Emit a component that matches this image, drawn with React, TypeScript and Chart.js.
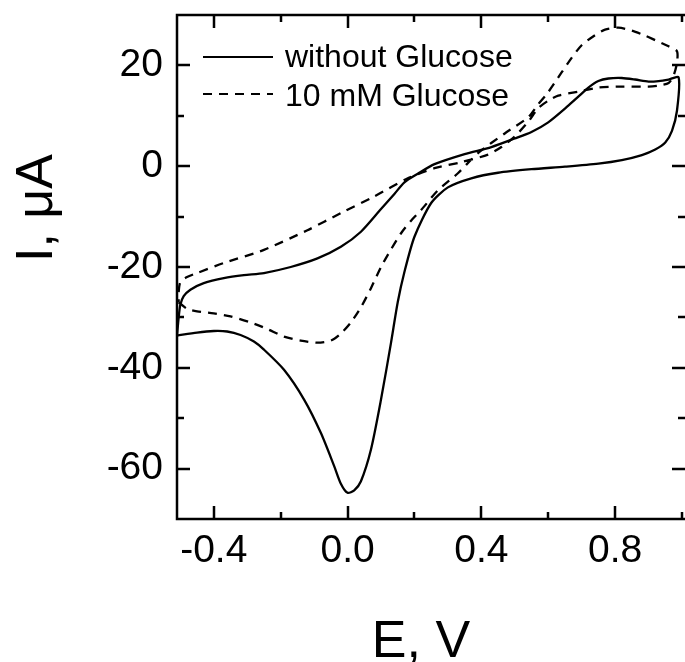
import React, { useEffect, useRef } from "react";
import { Chart, registerables } from "chart.js";

Chart.register(...registerables);

// ---- data ----
const E_WITHOUT = [
  -0.51, -0.45, -0.4, -0.36, -0.32, -0.28, -0.25, -0.19, -0.13, -0.08, -0.04, -0.02, 0.0, 0.02, 0.04,
  0.07, 0.1, 0.13, 0.15, 0.17, 0.2, 0.25, 0.3, 0.37, 0.45, 0.55, 0.65, 0.75, 0.82, 0.88, 0.92, 0.95,
  0.97, 0.985, 0.99,
  0.96, 0.93, 0.9, 0.86, 0.82, 0.78, 0.75, 0.72, 0.69, 0.66, 0.6, 0.55, 0.5, 0.43, 0.35, 0.26, 0.21,
  0.17, 0.14, 0.1, 0.04, -0.02, -0.09, -0.17, -0.25, -0.31, -0.37, -0.43, -0.47, -0.49, -0.5, -0.505,
  -0.51,
];
const I_WITHOUT = [
  -33.6, -33.0, -32.7, -32.8, -33.5, -34.8, -36.4, -40.4, -46.3, -52.9, -59.5, -63.0, -64.8, -64.3, -62.5,
  -56.2, -46.3, -35.0, -27.0, -21.0, -14.0, -7.3, -4.2, -2.4, -1.3, -0.6, -0.1, 0.5, 1.2, 2.2, 3.3, 4.7,
  7.0, 11.0, 17.6,
  17.2, 16.9, 16.8, 17.2, 17.5, 17.4, 16.9, 15.6, 13.8, 12.0, 8.7, 6.8, 5.5, 3.8, 2.4, 0.4, -1.5,
  -3.2, -5.5, -8.5, -13.0, -16.0, -18.3, -20.0, -21.2, -21.6, -22.2, -23.2, -24.5, -25.8, -27.5, -30.0,
  -33.6,
];

const E_GLUCOSE = [
  -0.505, -0.48, -0.45, -0.4, -0.35, -0.29, -0.24, -0.19, -0.14, -0.09, -0.05, -0.02, 0.01, 0.04, 0.07,
  0.1, 0.13, 0.16, 0.19, 0.22, 0.27, 0.33, 0.39, 0.47, 0.54, 0.57, 0.6, 0.64, 0.67, 0.7, 0.74, 0.77,
  0.81, 0.85, 0.89, 0.92, 0.96, 0.985,
  0.985, 0.975, 0.96, 0.93, 0.9, 0.82, 0.75, 0.69, 0.63, 0.6, 0.57, 0.54, 0.5, 0.46, 0.42, 0.34, 0.26,
  0.18, 0.08, -0.02, -0.12, -0.25, -0.37, -0.45, -0.48, -0.5, -0.505, -0.505,
];
const I_GLUCOSE = [
  -27.0, -28.3, -28.8, -29.2, -29.8, -31.0, -32.3, -33.8, -34.6, -35.0, -34.6, -33.2, -31.0, -28.0, -24.2,
  -20.0, -16.5, -13.3, -10.8, -8.7, -4.8, -1.4, 2.6, 6.5, 9.7, 12.3, 14.7, 18.6, 21.5, 24.0, 26.0, 27.1,
  27.5, 26.9, 25.9, 25.0, 23.8, 22.8,
  20.5, 18.0, 16.5, 16.0, 15.8, 15.8, 15.6, 14.8, 14.0, 13.0, 11.5, 8.8, 5.9, 3.8, 2.3, 0.8, -0.4,
  -2.4, -6.0, -9.3, -12.7, -16.6, -19.2, -21.2, -22.0, -23.0, -25.0, -27.0,
];

const SERIES_LABELS = ["without Glucose", "10 mM Glucose"];
const X_TITLE = "E, V";
const Y_TITLE = "I, \u03bcA";

const X_MAJOR_TICKS = [-0.4, 0, 0.4, 0.8];
const X_MINOR_TICKS = [-0.2, 0.2, 0.6, 1.0];
const Y_MAJOR_TICKS = [-60, -40, -20, 0, 20];
const Y_MINOR_TICKS = [-50, -30, -10, 10];
const X_MIN = -0.51;
const X_MAX = 1.009;
const Y_MIN = -70;
const Y_MAX = 30;

const FONT = '"Liberation Sans", Arial, Helvetica, sans-serif';
const DASH = [9, 7];

const toPoints = (xs: number[], ys: number[]) => xs.map((x, i) => ({ x, y: ys[i] }));

const framePlugin = {
  id: "framePlugin",
  afterDatasetsDraw(chart: any) {
    const { ctx, chartArea: a, scales } = chart;
    const xs = scales.x;
    const ys = scales.y;
    ctx.save();
    ctx.strokeStyle = "#000";
    ctx.lineWidth = 2.5;
    ctx.setLineDash([]);
    ctx.beginPath();
    ctx.moveTo(a.right, a.top);
    ctx.lineTo(a.left, a.top);
    ctx.lineTo(a.left, a.bottom);
    ctx.lineTo(a.right, a.bottom);
    ctx.stroke();
    const MAJ = 13;
    const MIN = 7;
    const xTick = (v: number, len: number) => {
      const px = Math.round(xs.getPixelForValue(v));
      ctx.beginPath();
      ctx.moveTo(px, a.bottom);
      ctx.lineTo(px, a.bottom - len);
      ctx.moveTo(px, a.top);
      ctx.lineTo(px, a.top + len);
      ctx.stroke();
    };
    const yTick = (v: number, len: number) => {
      const py = Math.round(ys.getPixelForValue(v));
      ctx.beginPath();
      ctx.moveTo(a.left, py);
      ctx.lineTo(a.left + len, py);
      ctx.moveTo(a.right, py);
      ctx.lineTo(a.right - len, py);
      ctx.stroke();
    };
    X_MAJOR_TICKS.forEach((v) => xTick(v, MAJ));
    X_MINOR_TICKS.forEach((v) => xTick(v, MIN));
    Y_MAJOR_TICKS.forEach((v) => yTick(v, MAJ));
    Y_MINOR_TICKS.forEach((v) => yTick(v, MIN));
    ctx.restore();
  },
  afterDraw(chart: any) {
    const { ctx } = chart;
    ctx.save();
    ctx.fillStyle = "#000";
    ctx.strokeStyle = "#000";
    // axis titles
    ctx.font = `52px ${FONT}`;
    ctx.textAlign = "center";
    ctx.textBaseline = "alphabetic";
    ctx.fillText(X_TITLE, 421, 657);
    ctx.save();
    ctx.translate(52, 208);
    ctx.rotate(-Math.PI / 2);
    ctx.fillText(Y_TITLE, 0, 0);
    ctx.restore();
    // legend
    ctx.lineWidth = 2.2;
    ctx.font = `32px ${FONT}`;
    ctx.textAlign = "left";
    ctx.setLineDash([]);
    ctx.beginPath();
    ctx.moveTo(203, 57);
    ctx.lineTo(273, 57);
    ctx.stroke();
    ctx.fillText(SERIES_LABELS[0], 285, 67);
    ctx.setLineDash(DASH);
    ctx.beginPath();
    ctx.moveTo(203, 94);
    ctx.lineTo(273, 94);
    ctx.stroke();
    ctx.setLineDash([]);
    ctx.fillText(SERIES_LABELS[1], 285, 106);
    ctx.restore();
  },
};

export default function App() {
  const ref = useRef<HTMLCanvasElement | null>(null);
  useEffect(() => {
    document.body.style.margin = "0";
    const canvas = ref.current;
    if (!canvas) return;
    const chart = new Chart(canvas, {
      type: "scatter",
      data: {
        datasets: [
          {
            label: SERIES_LABELS[0],
            data: toPoints(E_WITHOUT, I_WITHOUT),
            showLine: true,
            borderColor: "#000",
            borderWidth: 2.3,
            pointRadius: 0,
            tension: 0.25,
            fill: false,
          },
          {
            label: SERIES_LABELS[1],
            data: toPoints(E_GLUCOSE, I_GLUCOSE),
            showLine: true,
            borderColor: "#000",
            borderWidth: 2.3,
            borderDash: DASH,
            pointRadius: 0,
            tension: 0.25,
            fill: false,
          },
        ],
      },
      options: {
        animation: false,
        responsive: false,
        devicePixelRatio: 1,
        layout: { padding: { top: 15, right: 0, left: 0, bottom: 0 } },
        plugins: { legend: { display: false }, tooltip: { enabled: false } },
        scales: {
          x: {
            type: "linear",
            min: X_MIN,
            max: X_MAX,
            grid: { display: false, drawTicks: false },
            border: { display: false },
            afterBuildTicks: (axis: any) => {
              axis.ticks = X_MAJOR_TICKS.map((v) => ({ value: v }));
            },
            afterFit: (axis: any) => {
              axis.height = 143;
              axis.paddingLeft = 0;
              axis.paddingRight = 0;
            },
            ticks: {
              color: "#000",
              font: { family: FONT, size: 39 },
              padding: 9,
              maxRotation: 0,
              autoSkip: false,
              callback: (v: any) => Number(v).toFixed(1),
            },
          },
          y: {
            type: "linear",
            min: Y_MIN,
            max: Y_MAX,
            grid: { display: false, drawTicks: false },
            border: { display: false },
            afterBuildTicks: (axis: any) => {
              axis.ticks = Y_MAJOR_TICKS.map((v) => ({ value: v }));
            },
            afterFit: (axis: any) => {
              axis.width = 177;
              axis.paddingTop = 0;
              axis.paddingBottom = 0;
            },
            ticks: {
              color: "#000",
              font: { family: FONT, size: 39 },
              padding: 14,
              autoSkip: false,
              callback: (v: any) => String(v),
            },
          },
        },
      },
      plugins: [framePlugin],
    });
    return () => chart.destroy();
  }, []);
  return <canvas ref={ref} width={685} height={662} style={{ display: "block" }} />;
}
